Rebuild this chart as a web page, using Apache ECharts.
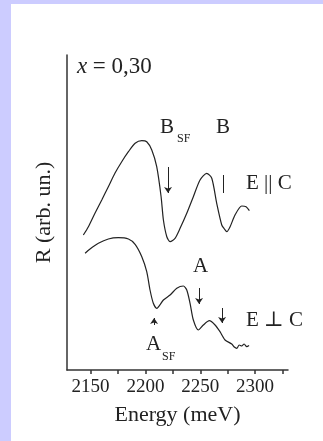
<!DOCTYPE html>
<html>
<head>
<meta charset="utf-8">
<script src="https://cdn.jsdelivr.net/npm/echarts@6/dist/echarts.min.js"></script>
<style>
  html, body { margin: 0; padding: 0; background: #ccccff; }
  #paper { position: absolute; left: 11px; top: 4px; width: 312px; height: 437px; background: #fff; }
  #chart { position: absolute; left: 0; top: 0; width: 323px; height: 441px; }
</style>
</head>
<body>
<div id="paper"></div>
<div id="chart"></div>
<script>
// energy (meV) and reflectance (arb. units)
var energyPar = [2143.4, 2148.0, 2154.1, 2160.2, 2166.2, 2172.3, 2178.4, 2184.5, 2190.6, 2196.7,
  2201.2, 2205.8, 2210.3, 2214.3, 2216.4, 2219.5, 2222.5, 2227.0, 2231.6, 2237.7,
  2243.7, 2249.8, 2255.9, 2260.5, 2265.0, 2269.6, 2272.0, 2274.2, 2277.2, 2281.7,
  2287.8, 2291.8, 2294.8];
var reflPar = [135, 143.3, 157, 170, 183.3, 197, 208.3, 218.3, 226.7, 229.3,
  228.3, 220, 203.3, 173.3, 150, 133.3, 128.3, 131.7, 141.7, 156.7,
  173.3, 190, 196.7, 191.7, 166.7, 145, 141, 138.3, 143.3, 155,
  164, 163.3, 159.3];

var energyPerp = [2145.0, 2149.5, 2157.1, 2166.2, 2175.3, 2184.5, 2190.6, 2196.7, 2201.2, 2204.2,
  2207.2, 2210.3, 2216.4, 2222.5, 2228.6, 2234.6, 2237.7, 2240.7, 2243.7, 2248.3,
  2252.8, 2258.3, 2263.5, 2268.0, 2272.6, 2278.7, 2281.0, 2283.3, 2285.5, 2287.8,
  2290.0, 2292.4, 2294.5];
var reflPerp = [116.7, 121, 126.7, 131, 132.3, 131, 125.7, 113.3, 98.3, 80,
  66.7, 61.7, 70, 75, 81.7, 84, 80, 66.7, 50, 40,
  45, 49.3, 45, 38.3, 30, 26, 23, 21.7, 25, 24,
  26, 23.3, 24.5];

var majorTicks = [2150, 2200, 2250, 2300];
var allTicks = [2150, 2175, 2200, 2225, 2250, 2275, 2300, 2325];

// arrows marking the features: [energy, from, to]
var arrowsDown = [[2220.6, 203, 177], [2248.9, 82, 66], [2269.9, 62, 47]];
var arrowsUp = [[2207.9, 45, 52]];
var barsB = [[2270.8, 195, 177]];

function zip(a, b) {
  var out = [];
  for (var i = 0; i < a.length; i++) out.push([a[i], b[i]]);
  return out;
}

var marks = [];
arrowsDown.concat(arrowsUp).forEach(function (a) {
  marks.push([{ coord: [a[0], a[1]], symbol: 'none' }, { coord: [a[0], a[2]], symbol: 'arrow' }]);
});
barsB.forEach(function (a) {
  marks.push([{ coord: [a[0], a[1]], symbol: 'none' }, { coord: [a[0], a[2]], symbol: 'none' }]);
});

var serif = '"Liberation Serif", "DejaVu Serif", serif';
var ink = '#222';

function txt(x, y, s, size, font) {
  return {
    type: 'text', z: 10,
    style: { x: x, y: y, text: s, font: (font || '') + size + 'px ' + serif, fill: ink, textVerticalAlign: 'middle' }
  };
}

var chart = echarts.init(document.getElementById('chart'));
var option = {
  animation: false,
  grid: { left: 67, right: 35, top: 55, bottom: 71 },
  xAxis: {
    type: 'value',
    min: 2128.5,
    max: 2330,
    name: 'Energy (meV)',
    nameLocation: 'middle',
    nameGap: 34,
    nameTextStyle: { fontFamily: serif, fontSize: 22, color: ink },
    axisLine: { lineStyle: { color: '#333', width: 1.5 } },
    axisTick: { customValues: allTicks, length: 4, lineStyle: { color: '#333', width: 1.5 } },
    axisLabel: {
      customValues: majorTicks, margin: 8, fontFamily: serif, fontSize: 19, color: ink,
      formatter: function (v) { return String(v); }
    },
    splitLine: { show: false }
  },
  yAxis: {
    type: 'value',
    min: 0,
    max: 315,
    name: 'R (arb. un.)',
    nameLocation: 'middle',
    nameGap: 12,
    nameTextStyle: { fontFamily: serif, fontSize: 22, color: ink },
    axisLine: { show: true, lineStyle: { color: '#333', width: 1.5 } },
    axisTick: { show: false },
    axisLabel: { show: false },
    splitLine: { show: false }
  },
  series: [
    {
      name: 'E || C',
      type: 'line',
      data: zip(energyPar, reflPar),
      showSymbol: false,
      smooth: 0.25,
      lineStyle: { color: ink, width: 1.2 },
      markLine: {
        silent: true,
        symbolSize: 6,
        label: { show: false },
        lineStyle: { color: ink, width: 1, type: 'solid' },
        data: marks
      }
    },
    {
      name: 'E ⊥ C',
      type: 'line',
      data: zip(energyPerp, reflPerp),
      showSymbol: false,
      smooth: 0.25,
      lineStyle: { color: ink, width: 1.2 }
    }
  ],
  graphic: [
    txt(77, 67, 'x', 23, 'italic '),
    txt(87, 67, ' = 0,30', 23),
    txt(160, 127, 'B', 21),
    txt(177, 139, 'SF', 12),
    txt(216, 127, 'B', 21),
    txt(246, 183, 'E || C', 21),
    txt(193, 266, 'A', 21),
    txt(246, 320, 'E ⊥ C', 21),
    txt(146, 344, 'A', 21),
    txt(162, 357, 'SF', 12)
  ]
};
chart.setOption(option);
</script>
</body>
</html>
